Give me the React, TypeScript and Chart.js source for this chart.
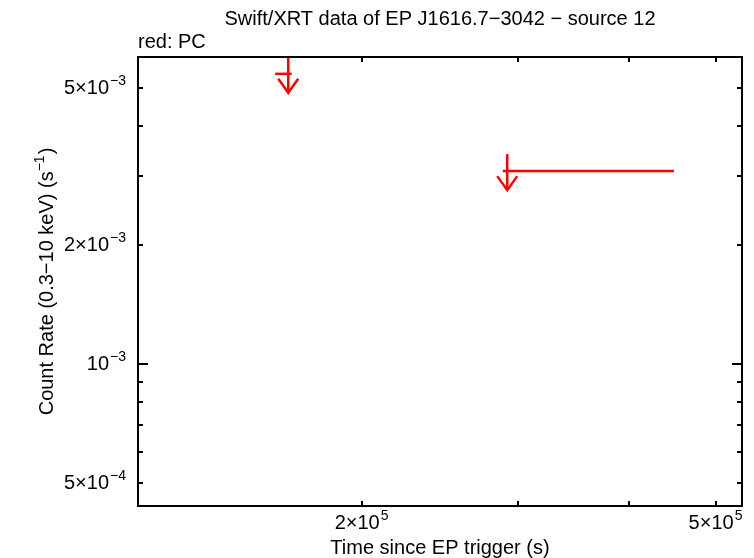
import React, { useEffect, useRef } from "react";
import { Chart, registerables } from "chart.js";

Chart.register(...registerables);

// ---- Data ----
const times = [1.654e5, 2.916e5];
const timeLow = [1.599e5, 2.883e5];
const timeHigh = [1.669e5, 4.491e5];
const rateUpperLimits = [5.43e-3, 3.08e-3];

// ---- Axis ranges & ticks ----
const xRange = [1.121e5, 5.355e5];
const yRange = [4.373e-4, 5.99e-3];
const xMinorTicks = [2e5, 3e5, 4e5, 5e5];
const xTickLabels = [
  { value: 2e5, base: "2×10", exp: "5" },
  { value: 5e5, base: "5×10", exp: "5" },
];
const yMinorTicks = [5e-4, 6e-4, 7e-4, 8e-4, 9e-4, 2e-3, 3e-3, 4e-3, 5e-3];
const yMajorTicks = [1e-3];
const yTickLabels = [
  { value: 5e-3, base: "5×10", exp: "−3" },
  { value: 2e-3, base: "2×10", exp: "−3" },
  { value: 1e-3, base: "10", exp: "−3" },
  { value: 5e-4, base: "5×10", exp: "−4" },
];

const TITLE = "Swift/XRT data of EP J1616.7−3042 − source 12";
const SUBTITLE = "red: PC";
const X_TITLE = "Time since EP trigger (s)";
const Y_TITLE_BASE = "Count Rate (0.3−10 keV) (s";
const Y_TITLE_EXP = "−1";
const Y_TITLE_END = ")";

const FONT = "'Liberation Sans', Arial, Helvetica, sans-serif";
const BASE_PX = 20;
const SUP_PX = 14;
const SUP_RAISE = 7;
const RED = "#ff0000";

function drawSup(
  ctx: CanvasRenderingContext2D,
  x: number,
  y: number,
  base: string,
  exp: string,
  align: "left" | "center" | "right"
) {
  ctx.font = `${BASE_PX}px ${FONT}`;
  const wb = ctx.measureText(base).width;
  ctx.font = `${SUP_PX}px ${FONT}`;
  const ws = ctx.measureText(exp).width;
  const total = wb + 1 + ws;
  const x0 = align === "left" ? x : align === "center" ? x - total / 2 : x - total;
  ctx.textAlign = "left";
  ctx.textBaseline = "middle";
  ctx.font = `${BASE_PX}px ${FONT}`;
  ctx.fillText(base, x0, y);
  ctx.font = `${SUP_PX}px ${FONT}`;
  ctx.fillText(exp, x0 + wb + 1, y - SUP_RAISE);
}

const framePlugin = {
  id: "frameAndErrors",
  afterDatasetsDraw(chart: any) {
    const ctx: CanvasRenderingContext2D = chart.ctx;
    const { left, right, top, bottom } = chart.chartArea;
    const xs = chart.scales.x;
    const ys = chart.scales.y;

    // error bars / upper limits
    ctx.save();
    ctx.beginPath();
    ctx.rect(left, top, right - left, bottom - top);
    ctx.clip();
    ctx.strokeStyle = RED;
    ctx.lineWidth = 2.5;
    ctx.lineCap = "butt";
    for (let i = 0; i < times.length; i++) {
      const px = xs.getPixelForValue(times[i]);
      const pl = xs.getPixelForValue(timeLow[i]);
      const pr = xs.getPixelForValue(timeHigh[i]);
      const py = ys.getPixelForValue(rateUpperLimits[i]);
      ctx.beginPath();
      ctx.moveTo(pl, py);
      ctx.lineTo(pr, py);
      ctx.stroke();
      ctx.beginPath();
      ctx.moveTo(px, py - 17);
      ctx.lineTo(px, py + 19);
      ctx.stroke();
      ctx.beginPath();
      ctx.moveTo(px - 10, py + 5);
      ctx.lineTo(px, py + 19);
      ctx.lineTo(px + 10, py + 5);
      ctx.stroke();
    }
    ctx.restore();

    // frame & ticks
    ctx.save();
    ctx.strokeStyle = "#000";
    ctx.lineWidth = 2;
    ctx.strokeRect(left, top, right - left, bottom - top);
    ctx.beginPath();
    for (const v of xMinorTicks) {
      const px = Math.round(xs.getPixelForValue(v));
      ctx.moveTo(px, bottom);
      ctx.lineTo(px, bottom - 5);
      ctx.moveTo(px, top);
      ctx.lineTo(px, top + 5);
    }
    for (const v of yMinorTicks) {
      const py = Math.round(ys.getPixelForValue(v));
      ctx.moveTo(left, py);
      ctx.lineTo(left + 5, py);
      ctx.moveTo(right, py);
      ctx.lineTo(right - 5, py);
    }
    for (const v of yMajorTicks) {
      const py = Math.round(ys.getPixelForValue(v));
      ctx.moveTo(left, py);
      ctx.lineTo(left + 10, py);
      ctx.moveTo(right, py);
      ctx.lineTo(right - 10, py);
    }
    ctx.stroke();

    // tick labels
    ctx.fillStyle = "#000";
    for (const t of xTickLabels) {
      drawSup(ctx, xs.getPixelForValue(t.value), bottom + 17, t.base, t.exp, "center");
    }
    for (const t of yTickLabels) {
      drawSup(ctx, left - 12, ys.getPixelForValue(t.value), t.base, t.exp, "right");
    }

    // titles
    ctx.font = `${BASE_PX}px ${FONT}`;
    ctx.textBaseline = "middle";
    ctx.textAlign = "center";
    ctx.fillText(TITLE, (left + right) / 2, 19);
    ctx.fillText(X_TITLE, (left + right) / 2, bottom + 42);
    ctx.textAlign = "left";
    ctx.fillText(SUBTITLE, left, 42);

    // y title rotated
    ctx.save();
    ctx.translate(47, (top + bottom) / 2);
    ctx.rotate(-Math.PI / 2);
    ctx.font = `${BASE_PX}px ${FONT}`;
    const w1 = ctx.measureText(Y_TITLE_BASE).width;
    const w3 = ctx.measureText(Y_TITLE_END).width;
    ctx.font = `${SUP_PX}px ${FONT}`;
    const w2 = ctx.measureText(Y_TITLE_EXP).width;
    const total = w1 + w2 + w3 + 1;
    let x0 = -total / 2;
    ctx.textAlign = "left";
    ctx.textBaseline = "middle";
    ctx.font = `${BASE_PX}px ${FONT}`;
    ctx.fillText(Y_TITLE_BASE, x0, 0);
    x0 += w1;
    ctx.font = `${SUP_PX}px ${FONT}`;
    ctx.fillText(Y_TITLE_EXP, x0, -SUP_RAISE);
    x0 += w2 + 1;
    ctx.font = `${BASE_PX}px ${FONT}`;
    ctx.fillText(Y_TITLE_END, x0, 0);
    ctx.restore();

    ctx.restore();
  },
};

export default function App() {
  const ref = useRef<HTMLCanvasElement | null>(null);
  useEffect(() => {
    if (!ref.current) return;
    const chart = new Chart(ref.current, {
      type: "scatter",
      data: {
        datasets: [
          {
            label: "PC",
            data: times.map((t, i) => ({ x: t, y: rateUpperLimits[i] })),
            pointRadius: 0,
            showLine: false,
            borderColor: RED,
            backgroundColor: RED,
          },
        ],
      },
      options: {
        responsive: false,
        animation: false,
        layout: { padding: { left: 138, right: 12, top: 57, bottom: 52 } },
        scales: {
          x: { type: "logarithmic", min: xRange[0], max: xRange[1], display: false },
          y: { type: "logarithmic", min: yRange[0], max: yRange[1], display: false },
        },
        plugins: { legend: { display: false }, tooltip: { enabled: false } },
      },
      plugins: [framePlugin],
    });
    return () => chart.destroy();
  }, []);
  return (
    <div style={{ position: "absolute", left: 0, top: 0, width: 754, height: 558, background: "#fff" }}>
      <canvas ref={ref} width={754} height={558} style={{ display: "block" }} />
    </div>
  );
}
